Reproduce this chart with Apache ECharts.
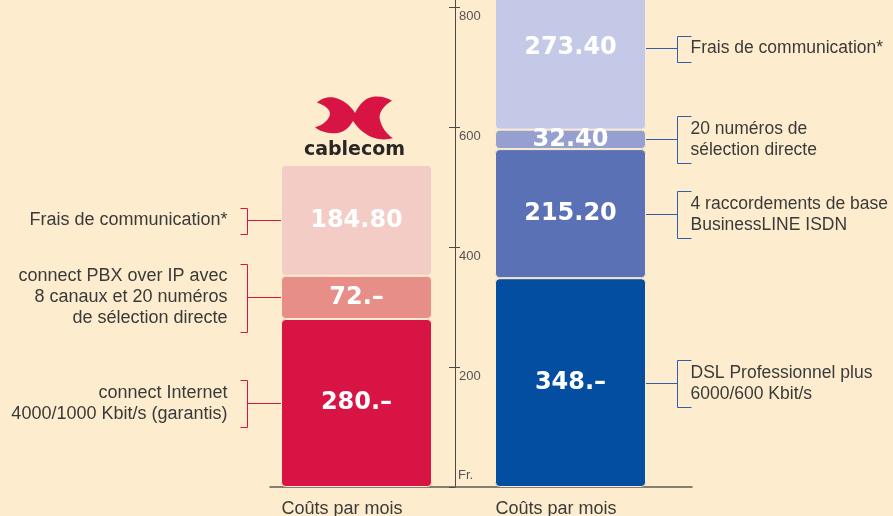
<!DOCTYPE html>
<html>
<head>
<meta charset="utf-8">
<script src="https://cdn.jsdelivr.net/npm/echarts@6/dist/echarts.min.js"></script>
<style>
  html, body { margin: 0; padding: 0; background: #FDEDCE; }
  #chart { width: 893px; height: 516px; }
</style>
</head>
<body>
<div id="chart"></div>
<script>
// ---------- data ----------
const categories = ['cablecom', 'Swisscom'];
const costLabel = 'Coûts par mois';

const cablecomValues = [280, 72, 184.80];
const cablecomLabels = ['280.–', '72.–', '184.80'];
const cablecomItems = [
  'connect Internet\n4000/1000 Kbit/s (garantis)',
  'connect PBX over IP avec\n8 canaux et 20 numéros\nde sélection directe',
  'Frais de communication*'
];

const swisscomValues = [348, 215.20, 32.40, 273.40];
const swisscomLabels = ['348.–', '215.20', '32.40', '273.40'];
const swisscomItems = [
  'DSL Professionnel plus\n6000/600 Kbit/s',
  '4 raccordements de base\nBusinessLINE ISDN',
  '20 numéros de\nsélection directe',
  'Frais de communication*'
];

const yTicks = [200, 400, 600, 800];
const unitLabel = 'Fr.';
const logoText = 'cablecom';

// ---------- styles ----------
const bg = '#FDEDCE';
const cablecomColors = ['#D71443', '#E68E87', '#F4CCC6'];
const swisscomColors = ['#034EA1', '#5B71B6', '#959FD0', '#C5C9E8'];
const barWidth = 151;
const yMax = 811.7;
const logoPath = 'M4 11 C9 6 16 5 22 6 C30 8 38 14 42 21 C46 13 52 6 60 5 C68 4 74 6 79 9 ' +
  'C70 14 65 22 67 28 C69 36 74 42 80 46 C72 48 64 47 59 45 C50 41 44 35 40 29 ' +
  'C36 36 30 41 22 41 C14 41 7 39 2 35 C10 33 16 28 17 22 C17 17 11 13 4 11 Z';

// ---------- build ----------
const series = [];
function addBars(values, labels, colors, catIdx) {
  values.forEach((v, i) => {
    const data = categories.map((c, k) => (k === catIdx ? v : '-'));
    series.push({
      type: 'bar',
      stack: 'total',
      barWidth: barWidth,
      clip: false,
      xAxisIndex: 0,
      yAxisIndex: 0,
      data: data,
      itemStyle: { color: colors[i], borderRadius: 4, borderColor: bg, borderWidth: 1 },
      label: {
        show: true,
        position: 'inside',
        formatter: labels[i],
        color: '#ffffff',
        fontFamily: 'DejaVu Sans',
        fontWeight: 'bold',
        fontSize: 24
      }
    });
  });
}
addBars(cablecomValues, cablecomLabels, cablecomColors, 0);
addBars(swisscomValues, swisscomLabels, swisscomColors, 1);

const annotations = [];
function addAnnotations(values, items, catIdx, side) {
  let acc = 0;
  values.forEach((v, i) => {
    annotations.push({ value: [catIdx, acc, acc + v], text: items[i], side: side });
    acc += v;
  });
}
addAnnotations(cablecomValues, cablecomItems, 0, -1);
addAnnotations(swisscomValues, swisscomItems, 1, 1);

function renderAnnotation(params, api) {
  const a = annotations[params.dataIndex];
  const cat = api.value(0);
  const cx = api.coord([cat, 0])[0];
  const cy = Math.round(api.coord([cat, (api.value(1) + api.value(2)) / 2])[1]) + 0.5;
  const left = a.side < 0;
  const edge = cx + a.side * barWidth / 2;
  const bx = Math.round(edge + a.side * (left ? 34 : 31)) + 0.5;
  const lines = a.text.split('\n').length;
  const h = lines * 21 + 5;
  const top = Math.round(cy - h / 2) + 0.5, bot = Math.round(cy + h / 2) + 0.5;
  const stub = left ? -7 : 14;
  const color = left ? '#D71443' : '#2F5FAA';
  return {
    type: 'group',
    children: [
      { type: 'line', shape: { x1: edge, y1: cy, x2: bx, y2: cy }, style: { stroke: color, lineWidth: 1 } },
      { type: 'polyline', shape: { points: [[bx + stub, top], [bx, top], [bx, bot], [bx + stub, bot]] },
        style: { stroke: color, fill: null, lineWidth: 1 } },
      { type: 'text', style: {
          text: a.text, x: left ? bx - 20 : bx + 13, y: cy,
          align: left ? 'right' : 'left', verticalAlign: 'middle',
          fontSize: left ? 18 : 17.5, fontFamily: 'Liberation Sans', lineHeight: 21, fill: '#3a3a3a'
      } }
    ]
  };
}

series.push({
  type: 'custom',
  xAxisIndex: 0,
  yAxisIndex: 0,
  clip: false,
  silent: true,
  data: annotations.map(a => a.value),
  renderItem: renderAnnotation,
  z: 5
});

// logo above the cablecom bar
const cablecomTotal = cablecomValues.reduce((s, v) => s + v, 0);
series.push({
  type: 'custom',
  xAxisIndex: 0,
  yAxisIndex: 0,
  clip: false,
  silent: true,
  data: [[0, cablecomTotal]],
  renderItem: function (params, api) {
    const p = api.coord([api.value(0), api.value(1)]);
    return {
      type: 'group',
      children: [
        { type: 'path', shape: { pathData: logoPath, x: p[0] - 41.5, y: p[1] - 68.5, width: 78, height: 43, layout: 'cover' },
          style: { fill: '#D71443' } },
        { type: 'text', style: {
            text: logoText, x: p[0] - 2, y: p[1] - 15, align: 'center', verticalAlign: 'middle',
            fontFamily: 'DejaVu Sans', fontWeight: 'bold', fontSize: 19, fill: '#2b2626'
        } }
      ]
    };
  }
});

const axisCommon = {
  type: 'value', gridIndex: 0, min: 0, max: yMax, interval: 200,
  position: 'left', offset: -205.5, splitLine: { show: false }
};

const option = {
  backgroundColor: bg,
  animation: false,
  grid: [
    { left: 249.5, right: 215.5, top: 0, bottom: 29, containLabel: false, outerBoundsMode: 'none' },
    { left: 270, right: 201, top: 0, bottom: 29, containLabel: false, outerBoundsMode: 'none' }
  ],
  xAxis: [
    {
      type: 'category', gridIndex: 0, data: categories,
      axisLine: { show: false }, axisTick: { show: false },
      axisLabel: {
        formatter: () => costLabel, margin: 13, fontSize: 18,
        fontFamily: 'Liberation Sans', color: '#3a3a3a', padding: [0, 29, 0, 0]
      }
    },
    {
      type: 'value', gridIndex: 1, min: 0, max: 1,
      axisLine: { show: true, lineStyle: { color: '#5e5a55', width: 1.5 } },
      axisTick: { show: false }, axisLabel: { show: false }, splitLine: { show: false }
    }
  ],
  yAxis: [
    Object.assign({}, axisCommon, {
      axisLine: { show: true, lineStyle: { color: '#4a4a4a', width: 1 } },
      axisTick: { show: true, length: 6, customValues: [0].concat(yTicks), lineStyle: { color: '#4a4a4a' } },
      axisLabel: { show: false }
    }),
    Object.assign({}, axisCommon, {
      axisLine: { show: false },
      axisTick: { show: true, inside: true, length: 5, customValues: yTicks, lineStyle: { color: '#4a4a4a' } },
      axisLabel: {
        show: true, inside: true, margin: 4, customValues: yTicks,
        verticalAlign: 'top', padding: [3, 0, 0, 0],
        fontSize: 13, fontFamily: 'Liberation Sans', color: '#555'
      }
    }),
    Object.assign({}, axisCommon, {
      axisLine: { show: false },
      axisTick: { show: false },
      axisLabel: {
        show: true, inside: true, margin: 3, customValues: [0],
        formatter: () => unitLabel, verticalAlign: 'bottom', padding: [0, 0, 5, 0],
        fontSize: 13, fontFamily: 'Liberation Sans', color: '#555'
      }
    }),
    { type: 'value', gridIndex: 1, show: false }
  ],
  series: series
};

const chart = echarts.init(document.getElementById('chart'), null, { renderer: 'canvas' });
chart.setOption(option);
</script>
</body>
</html>
